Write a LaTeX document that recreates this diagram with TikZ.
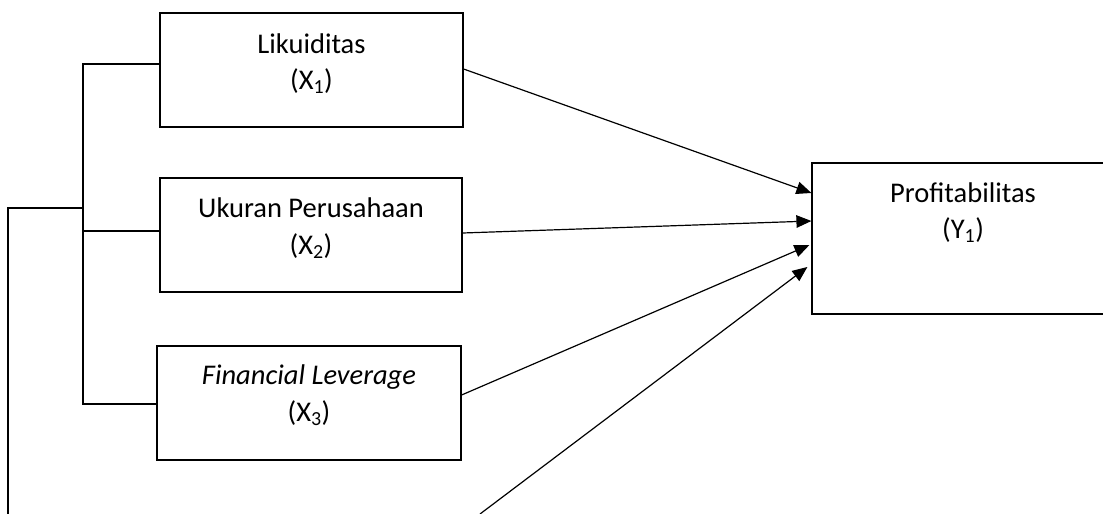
\documentclass[tikz,border=0pt]{standalone}
\usepackage{fontspec}
\setmainfont{Carlito}
\usetikzlibrary{arrows.meta,calc}
\tikzset{
  box/.style={draw, line width=1.2pt, minimum height=114pt, inner sep=0pt},
  lbl/.style={font=\fontsize{28.5}{36.5}\selectfont, align=center, anchor=base, inner sep=0pt},
  arr/.style={line width=1.2pt, -{Triangle[length=15pt,width=12.5pt]}},
  ln/.style={line width=1.2pt}
}
\begin{document}
\begin{tikzpicture}[x=1pt,y=-1pt]
\useasboundingbox (0,0) rectangle (1103,514);
% boxes
\node[box, minimum width=303pt] (x1) at (311.5,70) {};
\node[box, minimum width=302pt] (x2) at (311,235) {};
\node[box, minimum width=304pt] (x3) at (309,403) {};
\node[box, minimum width=340pt, minimum height=151pt] (y) at (982,238.5) {};
% labels
\node[lbl] (t1) at (311.5,89.5) {Likuiditas\\(X\textsubscript{1})};
\node[lbl] (t2) at (311,254) {Ukuran Perusahaan\\(X\textsubscript{2})};
\node[lbl] (t3) at (309,421) {\itshape Financial Leverage\\(X\textsubscript{3})};
\node[lbl] (ty) at (963,238.5) {Profitabilitas\\(Y\textsubscript{1})};
% bracket
\coordinate (b1) at (83,64);
\coordinate (b2) at (83,231);
\coordinate (b3) at (83,404);
\coordinate (bm) at (83,208);
\coordinate (l1) at (8,208);
\coordinate (l2) at (8,514);
\draw[ln] (x1.west |- b1) -- (b1) -- (b3) -- (x3.west |- b3);
\draw[ln] (b2) -- (x2.west |- b2);
\draw[ln] (l2) -- (l1) -- (bm);
% arrows
\coordinate (c4) at (480,514);
\draw[arr] ([yshift=1pt]x1.east) -- ([yshift=45.5pt]y.west);
\draw[arr] ([yshift=2pt]x2.east) -- ([yshift=17.5pt]y.west);
\draw[arr] ([yshift=8pt]x3.east) -- ([xshift=-2pt,yshift=-6.5pt]y.west);
\draw[arr] (c4) -- ([xshift=-4pt,yshift=-28.5pt]y.west);
\end{tikzpicture}
\end{document}
